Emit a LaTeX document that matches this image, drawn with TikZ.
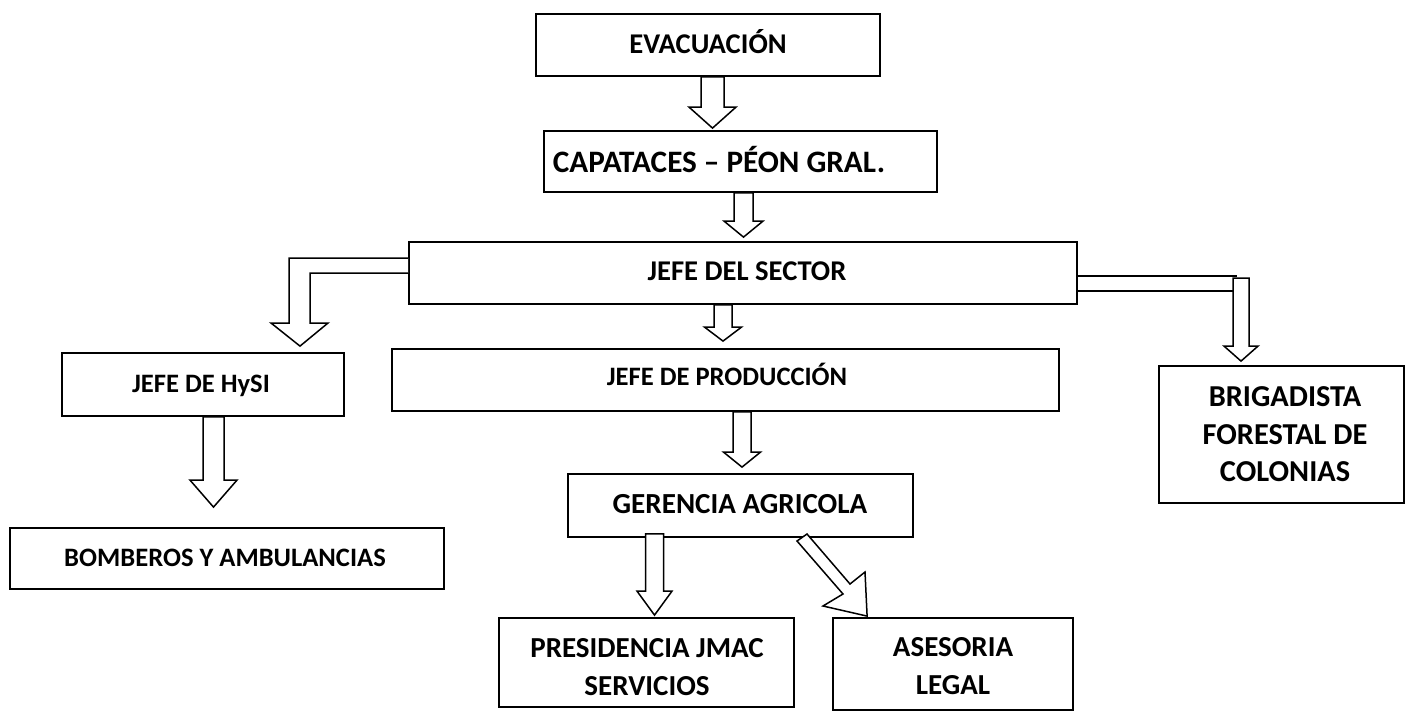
\documentclass[tikz,border=0pt]{standalone}
\usepackage{fontspec}
\setmainfont{Carlito}
\usetikzlibrary{calc,fit}
\newcommand\blockdown[5]{%
  \draw[blk] let \p1=(#1), \p2=(#2) in
    (\x2-#3*0.5pt,\y1) -- (\x2+#3*0.5pt,\y1) -- (\x2+#3*0.5pt,\y2+#5*0.5pt)
    -- (\x2+#4*0.5pt,\y2+#5*0.5pt) -- (\x2,\y2) -- (\x2-#4*0.5pt,\y2+#5*0.5pt)
    -- (\x2-#3*0.5pt,\y2+#5*0.5pt) -- cycle;}
\begin{document}
\begin{tikzpicture}[x=0.5pt,y=-0.5pt,
  box/.style={draw, line width=0.9pt, inner sep=0pt, fill=white},
  blk/.style={draw, line width=0.75pt, fill=white, line join=miter},
  lbl/.style={inner sep=0pt, font=\bfseries\fontsize{14.3}{18.8}\selectfont, anchor=base},
  lbls/.style={inner sep=0pt, font=\bfseries\fontsize{13.3}{18.8}\selectfont, anchor=base},
  lblm/.style={inner sep=0pt, font=\bfseries\fontsize{14.5}{19}\selectfont, anchor=base, align=center}]
\useasboundingbox (0,0) rectangle (1406,712);
\fill[white] (0,0) rectangle (1406,712);

% boxes
\node[box, fit={(536,14) (880,76)}] (evac) {};
\node[box, fit={(544,131) (937,192)}] (capa) {};
\node[box, fit={(409,242) (1077,304)}] (sector) {};
\node[box, fit={(392,349) (1059,411)}] (prod) {};
\node[box, fit={(62,353) (344,416)}] (hysi) {};
\node[box, fit={(10,528) (444,589)}] (bomb) {};
\node[box, fit={(568,474) (913,537)}] (ger) {};
\node[box, fit={(499,618) (794,707)}] (pres) {};
\node[box, fit={(833,618) (1073,710)}] (ases) {};
\node[box, fit={(1159,366) (1404,503)}] (brig) {};

% labels
\node[lbl] (evact) at (708,53.5) {EVACUACIÓN};
\node[lbl, font=\bfseries\fontsize{15.6}{18.8}\selectfont] (capat) at (719,172) {CAPATACES – PÉON GRAL.};
\node[lbl] (sectort) at (747,280.5) {JEFE DEL SECTOR};
\node[lbls] (prodt) at (727,385.5) {JEFE DE PRODUCCIÓN};
\node[lbls] (hysit) at (201,392.5) {JEFE DE HySI};
\node[lbls] (bombt) at (225,566.5) {BOMBEROS Y AMBULANCIAS};
\node[lbl, font=\bfseries\fontsize{14.55}{18.8}\selectfont] (gert) at (740,513.5) {GERENCIA AGRICOLA};
\node[lblm] (prest) at (647,695.5) {PRESIDENCIA JMAC\\SERVICIOS};
\node[lblm] (asest) at (953,694.5) {ASESORIA\\LEGAL};
\node[lblm, font=\bfseries\fontsize{15.2}{18.75}\selectfont] (brigt) at (1285,481.5) {BRIGADISTA\\FORESTAL DE\\COLONIAS};

% arrow axes
\coordinate (a1) at (712.5,0);
\coordinate (a2) at (743.5,0);
\coordinate (a3) at (723,0);
\coordinate (a4) at (742,0);
\coordinate (a5) at (654.5,0);
\coordinate (a6) at (213.5,0);
\coordinate (a7) at (1241,0);

\blockdown{a1 |- evac.south}{$(a1 |- capa.north)+(0,-2)$}{11.5}{23.5}{21}
\blockdown{a2 |- capa.south}{$(a2 |- sector.north)+(0,-4)$}{9.5}{19.5}{16}
\blockdown{a3 |- sector.south}{$(a3 |- prod.north)+(0,-7)$}{9}{18.5}{14}
\blockdown{a4 |- prod.south}{$(a4 |- ger.north)+(0,-6)$}{9}{18.5}{15}
\blockdown{$(a5 |- ger.south)+(0,-4)$}{$(a5 |- pres.north)+(0,-2)$}{9}{17.5}{24}
\blockdown{a6 |- hysi.south}{$(a6 |- bomb.north)+(0,-20)$}{10.5}{23.5}{27}

% left bent arrow
\draw[blk] ($(sector.west)+(0,-15)$) -- (289,258) -- (289,323) -- (271,323)
  -- ($(hysi.north)+(97,-6)$) -- (328,323) -- (310,323) -- (310,273) -- (sector.west);

% right bent arrow
\draw[blk] ($(sector.east)+(0,3)$) -- (1237,276);
\draw[blk] ($(sector.east)+(0,18)$) -- (1233,291);
\blockdown{a7 |- 0,278}{$(a7 |- brig.north)+(0,-4)$}{8}{17}{15}

% diagonal arrow
\draw[blk] (797,541) -- (843,594) -- (823,606) -- ($(ases.north west)+(35,-1)$)
  -- (865,572) -- (850,584) -- (807,534) -- cycle;
\end{tikzpicture}
\end{document}
